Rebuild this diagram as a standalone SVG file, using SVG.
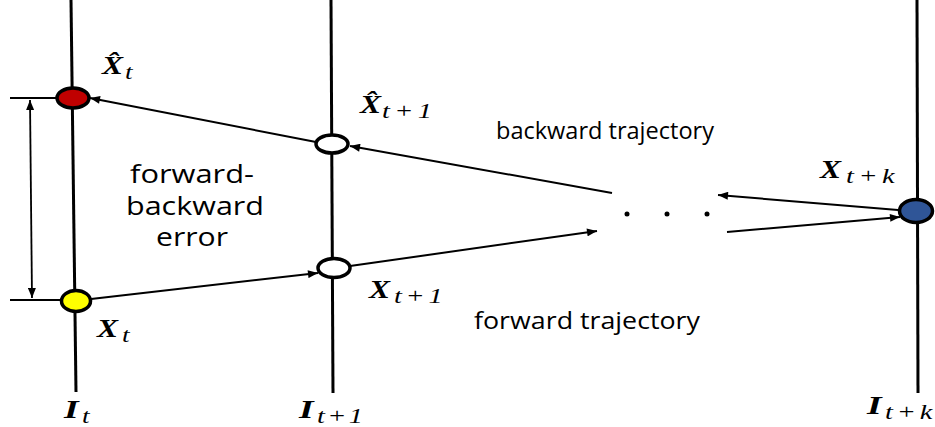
<svg xmlns="http://www.w3.org/2000/svg" width="935" height="427" viewBox="0 0 935 427">
<defs>
<marker id="ah" viewBox="0 0 10 8" refX="10" refY="4" markerWidth="11" markerHeight="8" markerUnits="userSpaceOnUse" orient="auto"><path d="M0,0 L10,4 L0,8 z" fill="#000"/></marker>
<marker id="ahs" viewBox="0 0 10 8" refX="0" refY="4" markerWidth="11" markerHeight="8" markerUnits="userSpaceOnUse" orient="auto"><path d="M10,0 L0,4 L10,8 z" fill="#000"/></marker>
</defs>
<style>
.axis{stroke:#000;stroke-width:3;fill:none}
.thin{stroke:#000;stroke-width:1.8;fill:none}
.con{stroke:#000;stroke-width:2;fill:none;marker-end:url(#ah)}
.node{stroke:#000;stroke-width:3.5}
.lbl{font-family:"Open Sans","Liberation Sans",sans-serif;fill:#000}
.mx{font-family:"Liberation Serif","DejaVu Serif",serif;font-weight:bold;font-style:italic;font-size:25px;fill:#000}
.ms{font-family:"Liberation Serif",serif;font-style:italic;font-size:21px;fill:#000}
</style>
<g id="axes">
<line class="axis" x1="71" y1="0" x2="76" y2="392"/>
<line class="axis" x1="331" y1="0" x2="333" y2="393"/>
<line class="axis" x1="917" y1="0" x2="918" y2="393"/>
<line class="thin" x1="10" y1="98" x2="58" y2="98"/>
<line class="thin" x1="10" y1="300" x2="60" y2="300"/>
</g>
<g id="connectors">
<line class="thin" x1="30" y1="100" x2="32" y2="298" marker-start="url(#ahs)" marker-end="url(#ah)"/>
<line class="con" x1="316" y1="142" x2="90" y2="98"/>
<line class="con" x1="612" y1="193" x2="350" y2="146"/>
<line class="con" x1="91" y1="299" x2="318" y2="273"/>
<line class="con" x1="350" y1="266" x2="597" y2="231"/>
<line class="con" x1="898" y1="210" x2="718" y2="195"/>
<line class="con" x1="727" y1="232" x2="900" y2="217"/>
</g>
<g id="node-xhat-t">
<ellipse class="node" cx="73" cy="98" rx="16" ry="10" fill="#c00000"/>
<text class="mx" transform="translate(102,74) scale(1.26,1)">X̂</text>
<text class="ms" transform="translate(125,79) scale(1.3,1)">t</text>
</g>
<g id="node-xhat-t1">
<ellipse class="node" cx="332" cy="144" rx="16" ry="9" fill="#fff"/>
<text class="mx" transform="translate(360,113) scale(1.26,1)">X̂</text>
<text class="ms" transform="translate(382,118) scale(1.35,1)" textLength="37" lengthAdjust="spacing">t+1</text>
</g>
<g id="node-x-t">
<ellipse class="node" cx="76" cy="301" rx="14.5" ry="10.5" fill="#ffff00"/>
<text class="mx" transform="translate(97,337) scale(1.26,1)">X</text>
<text class="ms" transform="translate(122,342) scale(1.3,1)">t</text>
</g>
<g id="node-x-t1">
<ellipse class="node" cx="334" cy="268" rx="16" ry="9.5" fill="#fff"/>
<text class="mx" transform="translate(369,298) scale(1.26,1)">X</text>
<text class="ms" transform="translate(394,303) scale(1.35,1)" textLength="36" lengthAdjust="spacing">t+1</text>
</g>
<g id="node-x-tk">
<ellipse class="node" cx="916" cy="211" rx="16.5" ry="11.5" fill="#2f5597"/>
<text class="mx" transform="translate(820,178) scale(1.26,1)">X</text>
<text class="ms" transform="translate(846,183) scale(1.35,1)" textLength="36" lengthAdjust="spacing">t+k</text>
</g>
<g id="dots">
<circle cx="627" cy="214" r="2.5" fill="#000"/>
<circle cx="667" cy="214" r="2.5" fill="#000"/>
<circle cx="707" cy="214" r="2.5" fill="#000"/>
</g>
<g id="frame-labels">
<text class="mx" transform="translate(64,418) scale(1.5,1)">I</text>
<text class="ms" transform="translate(82,423) scale(1.3,1)">t</text>
<text class="mx" transform="translate(299,418) scale(1.5,1)">I</text>
<text class="ms" transform="translate(317,423) scale(1.35,1)" textLength="34" lengthAdjust="spacing">t+1</text>
<text class="mx" transform="translate(867,414) scale(1.5,1)">I</text>
<text class="ms" transform="translate(885,419) scale(1.35,1)" textLength="35" lengthAdjust="spacing">t+k</text>
</g>
<g id="text-labels">
<text class="lbl" x="496" y="139" font-size="23" textLength="218" lengthAdjust="spacingAndGlyphs">backward trajectory</text>
<text class="lbl" x="474" y="329" font-size="23" textLength="226" lengthAdjust="spacingAndGlyphs">forward trajectory</text>
<text class="lbl" x="192" y="183" font-size="25" text-anchor="middle" textLength="124" lengthAdjust="spacingAndGlyphs">forward-</text>
<text class="lbl" x="195" y="215" font-size="25" text-anchor="middle" textLength="138" lengthAdjust="spacingAndGlyphs">backward</text>
<text class="lbl" x="192" y="246" font-size="25" text-anchor="middle" textLength="72" lengthAdjust="spacingAndGlyphs">error</text>
</g>
</svg>
